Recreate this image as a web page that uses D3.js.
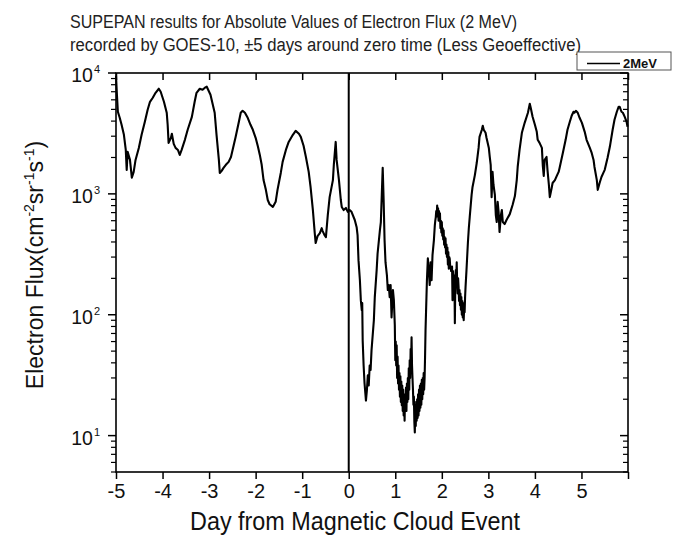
<!DOCTYPE html>
<html>
<head>
<meta charset="utf-8">
<script src="https://cdn.jsdelivr.net/npm/d3@7"></script>
<style>
body { margin: 0; background: #fff; }
svg { font-family: "Liberation Sans", Arial, sans-serif; }
</style>
</head>
<body>
<div id="chart"></div>
<script>
// day from zero time
var days = [
  -5.00, -4.98, -4.96, -4.92, -4.88, -4.83, -4.79, -4.77, -4.75, -4.70, -4.66, -4.62, -4.58, -4.51, -4.45, -4.38,
  -4.32, -4.27, -4.21, -4.15, -4.08, -4.04, -3.97, -3.91, -3.89, -3.87, -3.82, -3.80, -3.76, -3.72, -3.67, -3.63,
  -3.59, -3.52, -3.46, -3.37, -3.31, -3.27, -3.20, -3.14, -3.09, -3.05, -3.01, -2.97, -2.92, -2.88, -2.84, -2.79,
  -2.77, -2.73, -2.69, -2.64, -2.58, -2.53, -2.47, -2.43, -2.36, -2.32, -2.28, -2.23, -2.17, -2.11, -2.06, -2.00,
  -1.95, -1.91, -1.87, -1.83, -1.78, -1.74, -1.70, -1.63, -1.57, -1.53, -1.46, -1.42, -1.35, -1.29, -1.20, -1.14,
  -1.07, -1.03, -0.97, -0.92, -0.86, -0.82, -0.77, -0.73, -0.71, -0.67, -0.62, -0.58, -0.56, -0.52, -0.49, -0.45,
  -0.41, -0.34, -0.32, -0.28, -0.26, -0.21, -0.17, -0.15, -0.11, -0.06, -0.02, 0.02, 0.06, 0.13, 0.17, 0.19,
  0.21, 0.24, 0.26, 0.28, 0.29, 0.30, 0.32, 0.34, 0.37, 0.39, 0.41, 0.43, 0.45, 0.47, 0.49, 0.54,
  0.56, 0.60, 0.62, 0.67, 0.69, 0.71, 0.73, 0.75, 0.77, 0.79, 0.82, 0.84, 0.86, 0.88, 0.90, 0.92,
  0.95, 0.97, 0.99,
  1.00, 1.01, 1.02, 1.03, 1.04, 1.05, 1.06, 1.07, 1.08, 1.09, 1.10, 1.11, 1.12, 1.13, 1.14, 1.15,
  1.16, 1.17, 1.18, 1.19, 1.20, 1.21, 1.22, 1.23, 1.24, 1.25, 1.26, 1.27, 1.28, 1.29, 1.30, 1.31,
  1.32, 1.33, 1.34, 1.35, 1.36, 1.37, 1.38, 1.39, 1.40, 1.41, 1.42, 1.43, 1.44, 1.45, 1.46, 1.47,
  1.48, 1.49, 1.50, 1.51, 1.52, 1.53, 1.54, 1.55, 1.56, 1.57, 1.58, 1.59, 1.60, 1.61, 1.62, 1.63,
  1.64, 1.65, 1.68, 1.70, 1.72, 1.74, 1.76, 1.78, 1.80, 1.83, 1.85,
  1.86, 1.87, 1.88, 1.89, 1.90, 1.91, 1.92, 1.93, 1.94, 1.95, 1.96, 1.97, 1.98, 1.99, 2.00, 2.01,
  2.02, 2.03, 2.04, 2.05, 2.06, 2.07, 2.08, 2.09, 2.10, 2.11, 2.12, 2.13, 2.14, 2.15, 2.16, 2.17,
  2.18, 2.19, 2.20, 2.21, 2.22, 2.23, 2.24, 2.25, 2.26, 2.27, 2.28, 2.29, 2.30, 2.31, 2.32, 2.33,
  2.34, 2.35, 2.36, 2.37, 2.38, 2.39, 2.40, 2.41, 2.42, 2.43, 2.44, 2.45, 2.46, 2.47, 2.48, 2.49,
  2.50, 2.51, 2.53, 2.56, 2.58, 2.60, 2.64, 2.66,
  2.71, 2.75, 2.79, 2.81, 2.86, 2.88, 2.90, 2.94, 2.96, 3.01, 3.03, 3.05, 3.07, 3.09, 3.11, 3.14,
  3.16, 3.18, 3.20, 3.22, 3.24, 3.27, 3.29, 3.31, 3.35, 3.39, 3.46, 3.52, 3.57, 3.61, 3.63, 3.67,
  3.72, 3.78, 3.85, 3.89, 3.91, 3.95, 4.00, 4.04, 4.06, 4.10, 4.15, 4.17, 4.19, 4.21, 4.25, 4.27,
  4.30, 4.32, 4.36, 4.38, 4.43, 4.47, 4.51, 4.53, 4.60, 4.66, 4.70, 4.75, 4.79, 4.83, 4.85, 4.88,
  4.92, 4.96, 5.01, 5.07, 5.11, 5.18, 5.22, 5.26, 5.28, 5.33, 5.35, 5.39, 5.43, 5.48, 5.50, 5.56,
  5.61, 5.67, 5.71, 5.76, 5.80, 5.82, 5.86, 5.89, 5.93, 5.97, 5.99
];

// 2 MeV electron flux, cm^-2 sr^-1 s^-1
var flux = [
  9500, 6610, 4780, 4260, 3730, 3080, 2310, 1580, 2230, 1910, 1360, 1520, 1910, 2400, 3080, 3950,
  4960, 5780, 6240, 6860, 7410, 7000, 5780, 4690, 3730, 2640, 2910, 3140, 2590, 2400, 2310, 2100,
  2310, 2800, 3390, 4340, 5780, 6860, 7410, 7270, 7560, 7700, 7130, 6610, 5460, 4690, 3080, 1910,
  1490, 1550, 1640, 1740, 1840, 2020, 2540, 2960, 3950, 4690, 4870, 4690, 4260, 3730, 3390, 2910,
  2450, 2100, 1740, 1300, 1080, 890, 820, 780, 860, 1080, 1490, 1840, 2310, 2690, 3080, 3320,
  3140, 2960, 2500, 2020, 1520, 1140, 735, 474, 392, 447, 474, 520, 492, 456, 439, 668,
  940, 1300, 1740, 2690, 1910, 1300, 890, 780, 735, 765, 710, 735, 710, 608, 530, 456,
  283, 193, 132, 109, 125, 61, 38, 27, 19.5, 23.7, 31.5, 26, 38, 35, 51, 90,
  140, 234, 321, 502, 585, 980, 1640, 890, 415, 272, 213, 160, 176, 140, 176, 95,
  160, 132, 82,
  42, 60, 38, 56, 30, 45, 27, 38, 24, 33, 21, 31, 19, 28, 17.8, 26,
  16, 24, 14.7, 22, 13.3, 21, 17, 25, 16, 27, 19, 30, 20, 36, 24, 42,
  30, 52, 40, 65, 38, 30, 24, 18, 21, 13, 10.6, 18, 12, 19, 13.3, 20,
  14, 22, 14.7, 24, 16, 26, 17, 27, 18, 29, 20, 30, 22, 33, 24, 30,
  45, 74, 193, 293, 234, 176, 272, 193, 311, 415, 552,
  600, 640, 720, 650, 800, 700, 760, 600, 720, 620, 690, 520, 600, 480, 585, 450,
  520, 420, 500, 380, 440, 360, 430, 320, 380, 300, 360, 260, 330, 240, 300, 290,
  250, 250, 230, 230, 250, 132, 230, 193, 150, 210, 85, 180, 234, 200, 272, 180,
  150, 200, 170, 130, 160, 120, 150, 110, 140, 100, 130, 95, 125, 90, 115, 105,
  140, 170, 234, 392, 520, 645, 980, 1140,
  1430, 1800, 2400, 2960, 3390, 3660, 3390, 3200, 2910, 2400, 2020, 1740, 940, 1520, 1190, 980,
  668, 585, 860, 710, 483, 668, 735, 585, 563, 608, 680, 810, 960, 1300, 1670, 2310,
  3200, 3870, 4690, 5570, 5160, 4340, 3730, 3260, 2800, 2640, 2400, 1700, 1410, 1910, 2020, 1580,
  1190, 940, 1120, 1230, 1300, 1410, 1520, 1640, 2180, 2800, 3390, 3950, 4430, 4780, 4690, 4870,
  4690, 4260, 3870, 3260, 2800, 2400, 2180, 1910, 1670, 1300, 1080, 1230, 1380, 1520, 1580, 1980,
  2450, 3390, 4100, 4780, 5260, 5260, 4780, 4690, 4340, 3950, 3590
];

var xTicks = [-5, -4, -3, -2, -1, 0, 1, 2, 3, 4, 5, 6];
var xLabels = [-5, -4, -3, -2, -1, 0, 1, 2, 3, 4, 5];
var yDecades = [10, 100, 1000, 10000];
var yMinor = [5, 6, 7, 8, 9, 20, 30, 40, 50, 60, 70, 80, 90, 200, 300, 400, 500, 600, 700, 800, 900,
              2000, 3000, 4000, 5000, 6000, 7000, 8000, 9000];
var titleLines = [
  "SUPEPAN results for Absolute Values of Electron Flux (2 MeV)",
  "recorded by GOES-10, \u00b15 days around zero time (Less Geoeffective)"
];
var seriesName = "2MeV";

var W = 675, H = 538;
var margin = {top: 73, right: 47, bottom: 66, left: 116};
var width = W - margin.left - margin.right;
var height = H - margin.top - margin.bottom;

var svg = d3.select("#chart").append("svg")
  .attr("width", W)
  .attr("height", H);

// title, two lines left aligned (text in the source is a bit condensed)
var titleLen = [447, 511];
svg.selectAll("text.title")
  .data(titleLines)
  .enter()
  .append("text")
  .attr("class", "title")
  .attr("x", 70)
  .attr("y", function(d, i) { return 28 + i * 23; })
  .attr("textLength", function(d, i) { return titleLen[i]; })
  .attr("lengthAdjust", "spacingAndGlyphs")
  .style("font-size", "18px")
  .style("fill", "#222")
  .text(function(d) { return d; });

var g = svg.append("g")
  .attr("transform", "translate(" + margin.left + "," + margin.top + ")");

var x = d3.scaleLinear().domain([-5, 6]).range([0, width]);
var y = d3.scaleLog().domain([5, 10000]).range([height, 0]);

var points = days.map(function(d, i) { return [d, flux[i]]; });

// bottom axis, ticks outward
var xAxis = g.append("g")
  .attr("transform", "translate(0," + height + ")")
  .call(d3.axisBottom(x).tickValues(xTicks).tickSize(7).tickPadding(5)
    .tickFormat(function(d) { return xLabels.indexOf(d) >= 0 ? String(d) : ""; }));
xAxis.select(".domain").remove();
xAxis.selectAll("line").attr("stroke", "#000").attr("stroke-width", 1.5);
xAxis.selectAll("text").style("font-size", "20px").style("font-family", "Liberation Sans, Arial, sans-serif").attr("fill", "#111");

// top axis, ticks inward
var xTop = g.append("g")
  .call(d3.axisBottom(x).tickValues(xTicks).tickSize(7).tickFormat(""));
xTop.select(".domain").remove();
xTop.selectAll("line").attr("stroke", "#000").attr("stroke-width", 1.5);

// left axis, ticks outward
var yLeft = g.append("g");
yLeft.selectAll("line.major")
  .data(yDecades)
  .enter()
  .append("line")
  .attr("x1", -8).attr("x2", 0)
  .attr("y1", function(d) { return y(d); })
  .attr("y2", function(d) { return y(d); })
  .attr("stroke", "#000").attr("stroke-width", 1.5);
yLeft.selectAll("line.minor")
  .data(yMinor)
  .enter()
  .append("line")
  .attr("x1", -5).attr("x2", 0)
  .attr("y1", function(d) { return y(d); })
  .attr("y2", function(d) { return y(d); })
  .attr("stroke", "#000").attr("stroke-width", 1.2);

var ylab = yLeft.selectAll("text.ytick")
  .data(yDecades)
  .enter()
  .append("text")
  .attr("class", "ytick")
  .attr("x", -16)
  .attr("y", function(d) { return y(d) + 9; })
  .attr("text-anchor", "end")
  .style("font-size", "19.5px")
  .style("fill", "#111");
ylab.append("tspan").text("10");
ylab.append("tspan")
  .attr("dx", 1)
  .attr("dy", -9)
  .style("font-size", "11px")
  .text(function(d) { return Math.round(Math.log10(d)); });

// right axis, ticks inward
var yRight = g.append("g");
yRight.selectAll("line.major")
  .data(yDecades)
  .enter()
  .append("line")
  .attr("x1", width - 8).attr("x2", width)
  .attr("y1", function(d) { return y(d); })
  .attr("y2", function(d) { return y(d); })
  .attr("stroke", "#000").attr("stroke-width", 1.5);
yRight.selectAll("line.minor")
  .data(yMinor)
  .enter()
  .append("line")
  .attr("x1", width - 5).attr("x2", width)
  .attr("y1", function(d) { return y(d); })
  .attr("y2", function(d) { return y(d); })
  .attr("stroke", "#000").attr("stroke-width", 1.2);

// frame
g.append("rect")
  .attr("width", width)
  .attr("height", height)
  .attr("fill", "none")
  .attr("stroke", "#000")
  .attr("stroke-width", 1.6);

// zero time marker
g.append("line")
  .attr("x1", x(0)).attr("x2", x(0))
  .attr("y1", 0).attr("y2", height)
  .attr("stroke", "#000")
  .attr("stroke-width", 2);

// flux trace
var line = d3.line()
  .x(function(d) { return x(d[0]); })
  .y(function(d) { return y(d[1]); });

g.append("path")
  .datum(points)
  .attr("d", line)
  .attr("fill", "none")
  .attr("stroke", "#000")
  .attr("stroke-width", 2.1)
  .attr("stroke-linejoin", "round");

// axis titles
svg.append("text")
  .attr("x", 355)
  .attr("y", 530)
  .attr("text-anchor", "middle")
  .attr("textLength", 330)
  .attr("lengthAdjust", "spacingAndGlyphs")
  .style("font-size", "25px")
  .style("fill", "#111")
  .text("Day from Magnetic Cloud Event");

var yt = svg.append("text")
  .attr("transform", "translate(43,265) rotate(-90)")
  .attr("text-anchor", "middle")
  .style("font-size", "23px")
  .style("fill", "#111");
yt.append("tspan").text("Electron Flux(cm");
yt.append("tspan").attr("dy", -9).style("font-size", "14px").text("-2");
yt.append("tspan").attr("dy", 9).text("sr");
yt.append("tspan").attr("dy", -9).style("font-size", "14px").text("-1");
yt.append("tspan").attr("dy", 9).text("s");
yt.append("tspan").attr("dy", -9).style("font-size", "14px").text("-1");
yt.append("tspan").attr("dy", 9).text(")");

// legend
var lg = svg.append("g").attr("transform", "translate(577,52)");
lg.append("rect")
  .attr("width", 94)
  .attr("height", 18)
  .attr("fill", "#fff")
  .attr("stroke", "#555")
  .attr("stroke-width", 1);
lg.append("line")
  .attr("x1", 10).attr("x2", 43)
  .attr("y1", 11.5).attr("y2", 11.5)
  .attr("stroke", "#000")
  .attr("stroke-width", 1.3);
lg.append("text")
  .attr("x", 46)
  .attr("y", 15.5)
  .style("font-size", "13px")
  .style("font-weight", "bold")
  .style("fill", "#111")
  .text(seriesName);
</script>
</body>
</html>
